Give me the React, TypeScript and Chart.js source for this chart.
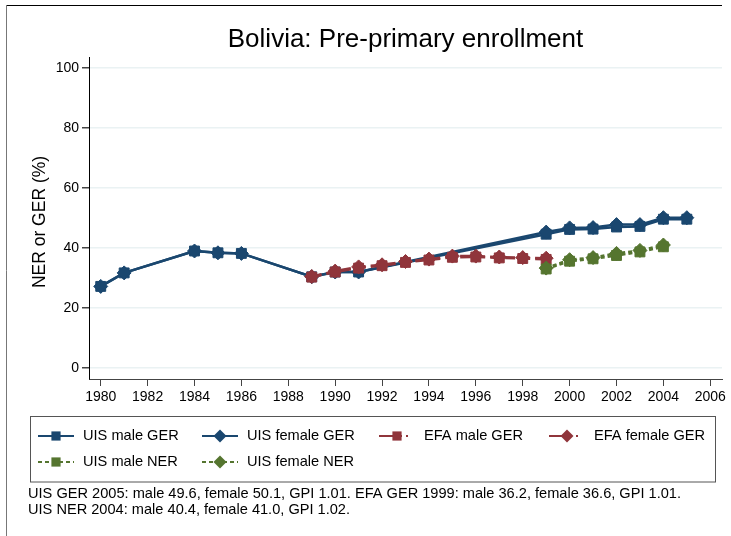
import React, { useEffect, useRef } from 'react';
import { Chart, registerables } from 'chart.js';

Chart.register(...registerables);

const titleText = 'Bolivia: Pre-primary enrollment';
const yAxisTitle = 'NER or GER (%)';
const xTicks = [1980, 1982, 1984, 1986, 1988, 1990, 1992, 1994, 1996, 1998, 2000, 2002, 2004, 2006];
const yTicks = [0, 20, 40, 60, 80, 100];

const uisYears = [1980, 1981, 1984, 1985, 1986, 1989, 1990, 1991, 1999, 2000, 2001, 2002, 2003, 2004, 2005];
const uisMaleGER = [27.2, 31.7, 39.0, 38.4, 38.2, 30.4, 32.0, 32.0, 44.6, 46.2, 46.3, 47.0, 47.2, 49.6, 49.6];
const uisFemaleGER = [27.2, 31.7, 39.0, 38.4, 38.2, 30.4, 32.0, 32.0, 45.3, 46.7, 46.8, 47.8, 47.8, 50.1, 50.1];

const efaYears = [1989, 1990, 1991, 1992, 1993, 1994, 1995, 1996, 1997, 1998, 1999];
const efaMaleGER = [30.3, 32.0, 33.3, 34.1, 35.2, 36.0, 36.9, 37.0, 36.7, 36.5, 36.2];
const efaFemaleGER = [30.5, 32.3, 33.7, 34.4, 35.5, 36.3, 37.3, 37.3, 37.0, 36.8, 36.6];

const nerYears = [1999, 2000, 2001, 2002, 2003, 2004];
const uisMaleNER = [33.0, 35.6, 36.4, 37.5, 38.7, 40.4];
const uisFemaleNER = [33.3, 36.1, 36.8, 38.2, 39.2, 41.0];

const seriesLabels = ['UIS male GER', 'UIS female GER', 'EFA male GER', 'EFA female GER', 'UIS male NER', 'UIS female NER'];

const noteLines = [
  'UIS GER 2005: male 49.6, female 50.1, GPI 1.01. EFA GER 1999: male 36.2, female 36.6, GPI 1.01.',
  'UIS NER 2004: male 40.4, female 41.0, GPI 1.02.',
];

const NAVY = '#1a476f';
const RED = '#90353b';
const GREEN = '#55752f';
const FONT = '"Liberation Sans", Arial, Helvetica, sans-serif';

const zip = (xs: number[], ys: number[]) => xs.map((x, i) => ({ x, y: ys[i] }));

function drawMarker(ctx: CanvasRenderingContext2D, style: string, x: number, y: number, r: number, color: string) {
  ctx.save();
  ctx.fillStyle = color;
  ctx.beginPath();
  if (style === 'rect') {
    const s = r * Math.SQRT1_2;
    ctx.rect(x - s, y - s, 2 * s, 2 * s);
  } else {
    ctx.moveTo(x, y - r);
    ctx.lineTo(x + r, y);
    ctx.lineTo(x, y + r);
    ctx.lineTo(x - r, y);
    ctx.closePath();
  }
  ctx.fill();
  ctx.restore();
}

const decorPlugin = {
  id: 'decor',
  afterDraw(chart: any) {
    const ctx: CanvasRenderingContext2D = chart.ctx;
    const ca = chart.chartArea;
    ctx.save();

    // outer frame (top and left edges)
    ctx.lineWidth = 1;
    ctx.strokeStyle = '#000';
    ctx.beginPath();
    ctx.moveTo(6, 5.5);
    ctx.lineTo(722, 5.5);
    ctx.stroke();
    ctx.strokeStyle = '#777';
    ctx.beginPath();
    ctx.moveTo(6.5, 5);
    ctx.lineTo(6.5, 536);
    ctx.stroke();

    // title
    ctx.fillStyle = '#000';
    ctx.font = `26px ${FONT}`;
    ctx.textAlign = 'center';
    ctx.textBaseline = 'middle';
    ctx.fillText(titleText, (ca.left + ca.right) / 2, 40);

    // y axis title
    ctx.save();
    ctx.translate(40, (ca.top + ca.bottom) / 2 + 4);
    ctx.rotate(-Math.PI / 2);
    ctx.font = `17.5px ${FONT}`;
    ctx.fillText(yAxisTitle, 0, 0);
    ctx.restore();

    // legend box
    const box = { l: 30, t: 416.5, r: 715, b: 482 };
    ctx.strokeStyle = '#555';
    ctx.lineWidth = 1;
    ctx.strokeRect(box.l + 0.5, box.t, box.r - box.l, box.b - box.t);

    const cols = [38, 202, 379, 549];
    const rows = [436, 462];
    const lineLen = 36;
    chart.data.datasets.forEach((ds: any, i: number) => {
      const col = cols[i % 4];
      const row = rows[Math.floor(i / 4)];
      ctx.save();
      ctx.strokeStyle = ds.borderColor;
      ctx.lineWidth = 2;
      ctx.setLineDash(ds.legendDash || ds.borderDash || []);
      ctx.beginPath();
      ctx.moveTo(col, row);
      ctx.lineTo(col + lineLen, row);
      ctx.stroke();
      ctx.restore();
      drawMarker(ctx, ds.pointStyle, col + lineLen / 2, row, 6.5, ds.borderColor);
      ctx.fillStyle = '#000';
      ctx.font = `14.6px ${FONT}`;
      ctx.textAlign = 'left';
      ctx.textBaseline = 'middle';
      ctx.fillText(ds.label, col + lineLen + 9, row);
    });

    // notes
    ctx.font = `14.6px ${FONT}`;
    ctx.textAlign = 'left';
    ctx.textBaseline = 'middle';
    ctx.fillStyle = '#000';
    noteLines.forEach((line, i) => ctx.fillText(line, 28, 494 + i * 15.5));

    ctx.restore();
  },
};

export default function App() {
  const ref = useRef<HTMLCanvasElement | null>(null);

  useEffect(() => {
    if (!ref.current) return;
    const mk = (i: number, data: any[], color: string, style: string, dash: number[], legendDash?: number[]) => ({
      label: seriesLabels[i],
      data,
      borderColor: color,
      backgroundColor: color,
      pointBackgroundColor: color,
      pointBorderColor: color,
      pointBorderWidth: 1,
      pointStyle: style,
      pointRadius: 7,
      pointHoverRadius: 7,
      borderWidth: 2.5,
      borderDash: dash,
      legendDash,
      tension: 0,
      fill: false,
      order: 5 - i,
    });
    const chart = new Chart(ref.current, {
      type: 'line',
      data: {
        datasets: [
          mk(0, zip(uisYears, uisMaleGER), NAVY, 'rect', []),
          mk(1, zip(uisYears, uisFemaleGER), NAVY, 'rectRot', []),
          mk(2, zip(efaYears, efaMaleGER), RED, 'rect', [10, 5], [14, 5, 4, 4, 2, 10]),
          mk(3, zip(efaYears, efaFemaleGER), RED, 'rectRot', [10, 5], [14, 5, 4, 4, 2, 10]),
          mk(4, zip(nerYears, uisMaleNER), GREEN, 'rect', [4, 3]),
          mk(5, zip(nerYears, uisFemaleNER), GREEN, 'rectRot', [4, 3]),
        ] as any,
      },
      options: {
        responsive: false,
        animation: false,
        devicePixelRatio: 1,
        layout: { padding: { left: 0, right: 9, top: 57, bottom: 126 } },
        plugins: {
          legend: { display: false },
          title: { display: false },
          tooltip: { enabled: false },
        },
        scales: {
          x: {
            type: 'linear',
            min: 1979.5,
            max: 2006.5,
            afterBuildTicks: (s: any) => {
              s.ticks = xTicks.map((v) => ({ value: v }));
            },
            afterFit: (s: any) => {
              s.height = 31;
            },
            ticks: {
              autoSkip: false,
              maxRotation: 0,
              color: '#000',
              padding: 3,
              font: { family: FONT, size: 14 },
              callback: (v: any) => String(v),
            },
            grid: { drawOnChartArea: false, drawTicks: true, tickLength: 7, tickColor: '#444', lineWidth: 1 },
            border: { color: '#444', width: 1 },
          },
          y: {
            type: 'linear',
            min: -3.67,
            max: 103.67,
            afterBuildTicks: (s: any) => {
              s.ticks = yTicks.map((v) => ({ value: v }));
            },
            afterFit: (s: any) => {
              s.width = 89;
            },
            ticks: {
              color: '#000',
              padding: 3,
              font: { family: FONT, size: 14 },
              callback: (v: any) => String(v),
            },
            grid: { color: '#eaf2f3', lineWidth: 1.5, tickLength: 7, tickColor: '#444' },
            border: { color: '#000', width: 1 },
          },
        },
      },
      plugins: [decorPlugin],
    });
    return () => chart.destroy();
  }, []);

  return (
    <div style={{ position: 'absolute', left: 0, top: 0, width: 731, height: 536, background: '#fff' }}>
      <canvas ref={ref} width={731} height={536} />
    </div>
  );
}
